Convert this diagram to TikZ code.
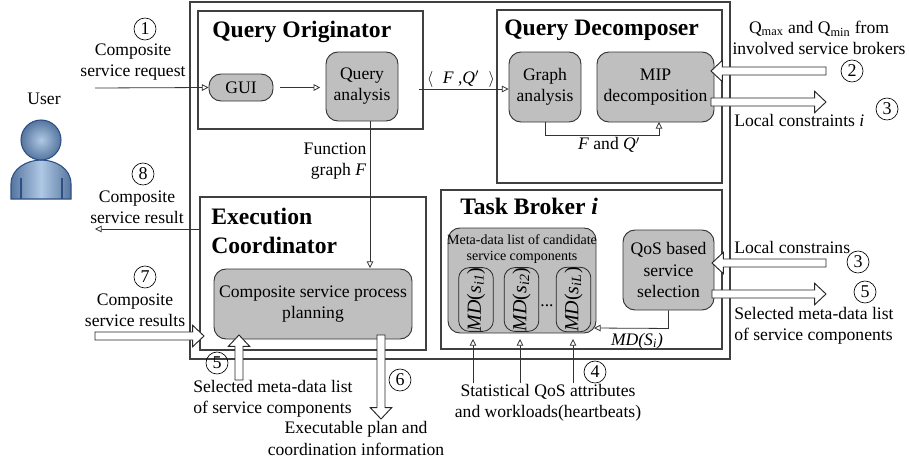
\documentclass[tikz,border=0pt]{standalone}
\usepackage{fontspec}
\setmainfont{Liberation Serif}
\usetikzlibrary{arrows.meta,calc}

\definecolor{usermid}{HTML}{AFC8E4}
\definecolor{userdark}{HTML}{56769F}
\definecolor{userline}{HTML}{2E4F86}

\tikzset{
  txt/.style={inner sep=0pt, align=center, font=\fontsize{13.2}{15.8}\selectfont},
  ltxt/.style={txt, align=left, anchor=west},
  title/.style={inner sep=0pt, anchor=west, align=left, font=\fontsize{17.7}{21.7}\selectfont\bfseries},
  frame/.style={draw=black!75, line width=.8pt, minimum width=#1, inner sep=0pt},
  block/.style={draw=black!80, line width=.7pt, fill=black!25, rounded corners=9pt, inner sep=0pt, txt},
  mdbox/.style={draw=black!85, line width=.6pt, rounded corners=8pt, rotate=90, minimum width=41pt, minimum height=26pt, inner sep=0pt, font=\fontsize{15}{15}\selectfont},
  num/.style={draw, circle, line width=.5pt, minimum size=16.5pt, inner sep=0pt, font=\fontsize{13.5}{15}\selectfont},
  thin arrow/.style={draw=black!80, line width=.6pt, -{Triangle[open, fill=white, length=5pt, width=5pt]}},
  fat arrow/.style={draw=black!85, line width=.7pt, fill=white}
}

% block arrow between two named coordinates
\newcommand{\fatarrow}[2]{
  \draw[fat arrow] ($(#1)!3pt!90:(#2)$) -- ($(#2)!8.5pt!(#1)!3pt!-90:(#1)$)
    -- ($(#2)!8.5pt!(#1)!8pt!-90:(#1)$) -- (#2)
    -- ($(#2)!8.5pt!(#1)!8pt!90:(#1)$) -- ($(#2)!8.5pt!(#1)!3pt!90:(#1)$)
    -- ($(#1)!3pt!-90:(#2)$) -- cycle;
}

\begin{document}
\begin{tikzpicture}[x=.75pt, y=-.75pt]
  \useasboundingbox (0,0) rectangle (909,464);

  % frames
  \node[frame=405pt, minimum height=267.75pt] (system) at (460,180.5) {};
  \node[frame=168.75pt, minimum height=88.5pt] (originator) at (310.5,70) {};
  \node[frame=168.75pt, minimum height=129.75pt] (decomposer) at (609.5,96.5) {};
  \node[frame=169.5pt, minimum height=114.75pt] (coordinator) at (313,273.5) {};
  \node[frame=210.75pt, minimum height=119.25pt] (broker) at (581.5,269.5) {};

  \node[title] (originatortitle) at (212,32) {Query Originator};
  \node[title] (decomposertitle) at (504,30) {Query Decomposer};
  \node[title] (coordinatortitle) at (211,231) {Execution\\Coordinator};
  \node[title] (brokertitle) at (460,206) {Task Broker \textit{i}};

  % user
  \draw[userline, line width=.8pt, left color=userdark, right color=userdark, middle color=usermid]
    (11,199) -- (11,184) .. controls (11,168) and (28,160) .. (41,160)
    .. controls (55,160) and (71,168) .. (71,184) -- (71,199) -- cycle;
  \draw[userline, line width=.8pt] (21,178) -- (21,199) (62,178) -- (62,199);
  \node[draw=userline, line width=.8pt, circle, minimum size=30pt, inner color=usermid, outer color=userdark] (userhead) at (41,140) {};
  \node[txt] (user) at (44,99) {User};

  % blocks
  \node[block, minimum width=48pt, minimum height=20.25pt] (gui) at (241,87.5) {GUI};
  \node[block, minimum width=54pt, minimum height=51.75pt] (query) at (362,86.5) {Query\\analysis};
  \node[block, minimum width=54pt, minimum height=52.5pt] (graph) at (545,87) {Graph\\analysis};
  \node[block, minimum width=87.75pt, minimum height=52.5pt] (mip) at (655.5,87) {MIP\\decomposition};
  \node[block, minimum width=148.5pt, minimum height=52.5pt] (planning) at (313,304) {Composite service process\\planning};
  \node[block, minimum width=111pt, minimum height=78.75pt] (metalist) at (522,280.5) {};
  \node[block, minimum width=68.25pt, minimum height=60pt] (qos) at (668.5,270) {QoS based\\service\\selection};

  \node[txt, font=\fontsize{10.5}{12}\selectfont] (metatext) at (522,249) {Meta-data list of candidate\\service components};
  \node[mdbox] (md1) at (476,299.5) {\textit{MD}(\textit{s}\textsubscript{\textit{i1}})};
  \node[mdbox] (md2) at (521.5,299.5) {\textit{MD}(\textit{s}\textsubscript{\textit{i2}})};
  \node[mdbox] (md3) at (573.5,299.5) {\textit{MD}(\textit{s}\textsubscript{\textit{iL}})};
  \node[txt] (mddots) at (547,306) {...};

  % free ends
  \coordinate (userin) at (95,88);
  \coordinate (userout) at (95,229);
  \coordinate (resultin) at (95,336);
  \coordinate (resulttip) at (204,336);
  \coordinate (selectin) at (239,380);
  \coordinate (selecttip) at (239,335);
  \coordinate (planfrom) at (381,335);
  \coordinate (planout) at (381,419);
  \coordinate (fqstart) at (419,89);
  \coordinate (qmaxin) at (826,71);
  \coordinate (qmaxtip) at (711,71);
  \coordinate (localfrom) at (711,102);
  \coordinate (localout) at (826,102);
  \coordinate (constrin) at (826,263);
  \coordinate (constrtip) at (712,263);
  \coordinate (selectfrom) at (712,294);
  \coordinate (selectout) at (826,294);
  \coordinate (mdcorner) at (594,328);

  % connectors
  \draw[thin arrow] (userin) -- (gui.west);
  \draw[thin arrow, shorten <=5pt, shorten >=4pt] (gui.east) -- (gui.east -| query.west);
  \draw[thin arrow] (fqstart) -- (fqstart -| graph.west);
  \draw[thin arrow] (query.south) ++(8,0) -- (370,268);
  \draw[thin arrow] (graph.south) -- ++(0,13) -| (659,122);
  \draw[thin arrow] (coordinator.west |- userout) -- (userout);
  \draw[thin arrow] (qos.south) -- ++(0,18) -- (mdcorner);
  \foreach \i in {473,520,573}
    \draw[thin arrow] (\i,383) -- (\i,339);

  \fatarrow{qmaxin}{qmaxtip}
  \fatarrow{localfrom}{localout}
  \fatarrow{constrin}{constrtip}
  \fatarrow{selectfrom}{selectout}
  \fatarrow{resultin}{resulttip}
  \fatarrow{selectin}{selecttip}
  \fatarrow{planfrom}{planout}

  % labels
  \node[num] (n1) at (145,29) {1};
  \node[txt] (request) at (133,62) {Composite\\service request};
  \node[num] (n8) at (143,174) {8};
  \node[txt] (result) at (137,207.5) {Composite\\service result};
  \node[num] (n7) at (145,277) {7};
  \node[txt] (results) at (135,310.5) {Composite\\service results};
  \node[num] (n5a) at (217,363) {5};
  \node[ltxt] (selecta) at (193,399) {Selected meta-data list\\of service components};
  \node[num] (n6) at (400,380) {6};
  \node[txt] (plan) at (356,438.5) {Executable plan and\\coordination information};
  \node[txt, align=right] (function) at (335,161) {Function\\graph \textit{F}};
  \node[txt] (fq) at (461,79) {$\langle$\hspace{7pt}\textit{F} ,\textit{Q}$'$\hspace{7pt}$\rangle$};
  \node[txt] (fandq) at (609,145) {\textit{F} and \textit{Q}$'$};
  \node[txt] (qmax) at (819,38) {Q\textsubscript{max} and Q\textsubscript{min} from\\involved service brokers};
  \node[num] (n2) at (852,71) {2};
  \node[ltxt] (local) at (734,120) {Local constraints \textit{i}};
  \node[num] (n3a) at (887,109) {3};
  \node[ltxt] (constrains) at (734,247) {Local constrains};
  \node[num] (n3b) at (858,262) {3};
  \node[num] (n5b) at (865,292) {5};
  \node[ltxt] (selectb) at (734,325.5) {Selected meta-data list\\of service components};
  \node[txt] (mdsi) at (637,341) {\textit{MD(S\textsubscript{i})}};
  \node[num] (n4) at (595,372) {4};
  \node[txt] (stats) at (548,403) {Statistical QoS attributes\\and workloads(heartbeats)};
\end{tikzpicture}
\end{document}
